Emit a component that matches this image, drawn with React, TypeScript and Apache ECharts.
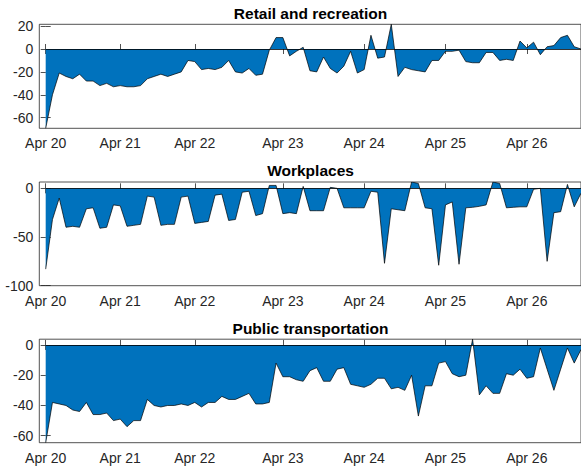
import React, { useEffect, useRef } from "react";
import * as echarts from "echarts";

const titles = ["Retail and recreation", "Workplaces", "Public transportation"];
const tickLabels = ["Apr 20", "Apr 21", "Apr 22", "Apr 23", "Apr 24", "Apr 25", "Apr 26"];
const tickIndex = [0, 11, 22, 35, 47, 59, 71];

const retail = [
  -69.3, -40, -21, -24, -26, -22, -28, -28, -32, -30,
  -33, -32, -33, -33, -32, -26, -24, -22, -24, -22,
  -20, -10, -11, -18, -17, -18, -16, -10, -20, -21,
  -17, -23, -22, -1, 10, 10, -6, -2, 1.5, -19,
  -20, -7, -17, -21, -15, -2, -21, -18, 12, -8,
  -7, 21.6, -24, -16, -18, -19, -20, -10, -10, -2,
  -2, -1, -11, -12, -12, -3, -3, -10, -9, -10,
  7, 1, 6, -5, 2, 3, 10, 12, 2, 0,
];

const workplaces = [
  -83, -32, -10, -40, -39, -40, -21, -20, -41, -40,
  -17, -18, -39, -38, -37, -8, -9, -38, -37, -37,
  -9, -8, -36, -35, -34, -7, -6, -33, -32, -4,
  -3, -28, -26, 3, 3, -26, -25, -26, 2, -23,
  -23, -23, 1, 0, -20, -20, -20, -20, -3, -4,
  -77, -21, -22, -23, 6.5, 5, -20, -21, -79, -17,
  -14, -78, -20, -19.5, -18.5, -17, 6.5, 5, -20, -19.5,
  -19, -19, -1, 0, -75, -25, -24, 4, -19, -5,
];

const transit = [
  -64.6, -38, -39, -40, -43, -44, -38, -46, -46, -45,
  -50, -49, -54, -50, -50, -36, -40, -41, -40, -40,
  -39, -40, -38, -41, -38, -38, -34, -36, -36, -34,
  -32, -39, -39, -38, -12, -21, -21, -23, -24, -17,
  -15, -24, -24, -16, -15, -26, -27, -28, -26, -22,
  -22, -29, -28, -30, -20, -47, -27, -27, -12, -11,
  -19, -21, -20, 3.8, -33, -27, -32, -32, -19, -20,
  -16, -22, -21, -2, -16, -30, -16, -2, -12, -3,
];

const retailTicks = [-60, -40, -20, 0, 20];
const workTicks = [-100, -50, 0];
const transitTicks = [-60, -40, -20, 0];
const workMin = -100;

const FONT = "'Liberation Sans', Arial, Helvetica, sans-serif";
const AXIS_COLOR = "#262626";

export default function App() {
  const ref = useRef<HTMLDivElement>(null);

  useEffect(() => {
    if (!ref.current) return;
    const chart = echarts.init(ref.current, undefined, { renderer: "svg" });

    const panels = [
      { title: titles[0], data: retail, ticks: retailTicks, min: Math.min(...retail), max: Math.max(...retail), top: 24.3, height: 104, titleTop: 4.5 },
      { title: titles[1], data: workplaces, ticks: workTicks, min: workMin, max: Math.max(...workplaces), top: 182, height: 103.7, titleTop: 162 },
      { title: titles[2], data: transit, ticks: transitTicks, min: Math.min(...transit), max: Math.max(...transit), top: 339.2, height: 103.5, titleTop: 319.7 },
    ];

    const n = retail.length;
    const xMin = -0.943;
    const xMax = n - 1;
    const gridLeft = 39.3;
    const gridWidth = 542.7;

    const grids: any[] = [];
    const xAxes: any[] = [];
    const yAxes: any[] = [];
    const series: any[] = [];
    const titleOpts: any[] = [];

    panels.forEach((p, k) => {
      grids.push({
        left: gridLeft,
        top: p.top,
        width: gridWidth,
        height: p.height,
        show: true,
        borderColor: AXIS_COLOR,
        borderWidth: 0.8,
        backgroundColor: "transparent",
        containLabel: false,
      });
      titleOpts.push({
        text: p.title,
        left: 310.5,
        top: p.titleTop,
        textAlign: "center",
        padding: 0,
        textStyle: { fontFamily: FONT, fontSize: 15.5, fontWeight: "bold", color: "#000", lineHeight: 17 },
      });
      const xBase = {
        type: "value",
        gridIndex: k,
        min: xMin,
        max: xMax,
        splitLine: { show: false },
        axisLine: { show: false },
      };
      xAxes.push({
        ...xBase,
        position: "bottom",
        axisTick: { show: true, inside: true, length: 5, customValues: tickIndex, lineStyle: { color: AXIS_COLOR, width: 0.8 } },
        axisLabel: {
          show: true,
          customValues: tickIndex,
          margin: 8,
          fontFamily: FONT,
          fontSize: 14,
          color: AXIS_COLOR,
          formatter: (v: number) => {
            const i = tickIndex.indexOf(Math.round(v));
            return i >= 0 ? tickLabels[i] : "";
          },
        },
      });
      xAxes.push({
        ...xBase,
        position: "top",
        axisTick: { show: true, inside: true, length: 5, customValues: tickIndex, lineStyle: { color: AXIS_COLOR, width: 0.8 } },
        axisLabel: { show: false },
      });
      const yBase = {
        type: "value",
        gridIndex: k,
        min: p.min,
        max: p.max,
        splitLine: { show: false },
        axisLine: { show: false },
      };
      yAxes.push({
        ...yBase,
        position: "left",
        axisTick: { show: true, inside: true, length: 5, customValues: p.ticks, lineStyle: { color: AXIS_COLOR, width: 0.8 } },
        axisLabel: {
          show: true,
          customValues: p.ticks,
          margin: 6,
          fontFamily: FONT,
          fontSize: 14,
          color: AXIS_COLOR,
        },
      });
      yAxes.push({
        ...yBase,
        position: "right",
        axisTick: { show: true, inside: true, length: 5, customValues: p.ticks, lineStyle: { color: AXIS_COLOR, width: 0.8 } },
        axisLabel: { show: false },
      });
      series.push({
        type: "line",
        xAxisIndex: k * 2,
        yAxisIndex: k * 2,
        data: p.data.map((v, i) => [i, v]),
        showSymbol: false,
        symbol: "none",
        lineStyle: { color: "#000", width: 0.7 },
        areaStyle: { color: "#0072BD", opacity: 1 },
        silent: true,
        markLine: {
          silent: true,
          symbol: "none",
          label: { show: false },
          lineStyle: { color: "#000", width: 0.8, type: "solid" },
          data: [[{ coord: [0, 0] }, { coord: [n - 1, 0] }]],
        },
      });
    });

    chart.setOption({
      animation: false,
      backgroundColor: "#fff",
      title: titleOpts,
      grid: grids,
      xAxis: xAxes,
      yAxis: yAxes,
      series,
    });

    return () => chart.dispose();
  }, []);

  return (
    <div
      ref={ref}
      style={{ position: "fixed", left: 0, top: 0, width: 581, height: 468, background: "#fff" }}
    />
  );
}
